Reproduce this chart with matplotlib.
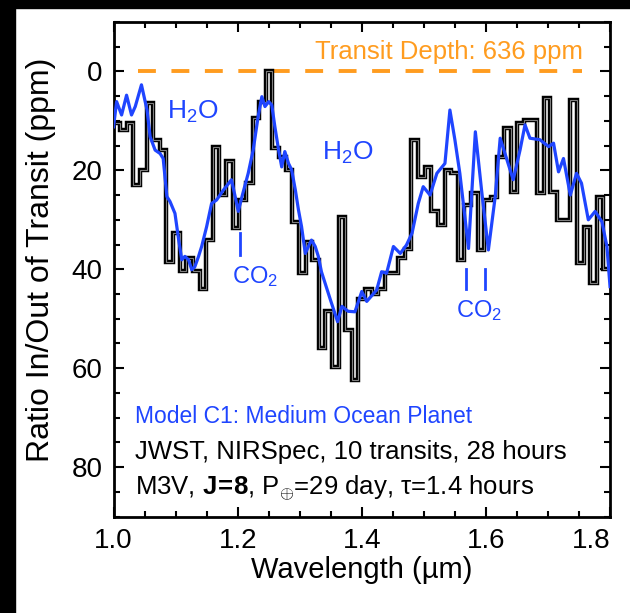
import numpy as np
import matplotlib
matplotlib.use('Agg')
import matplotlib.pyplot as plt
from matplotlib.patches import Rectangle
from matplotlib.ticker import MultipleLocator

plt.rcParams['font.family'] = ['Liberation Sans', 'DejaVu Sans']
plt.rcParams['mathtext.fontset'] = 'custom'
plt.rcParams['mathtext.rm'] = 'Liberation Sans'
plt.rcParams['mathtext.it'] = 'Liberation Sans:italic'
plt.rcParams['mathtext.bf'] = 'Liberation Sans:bold'

# simulated JWST spectrum, binned (ppm below transit depth)
hist_ppm = [10.5, 11.8, 10.5, 23, 20, 6.4, 13.8, 15.9, 38.5, 32.7,
            40.4, 37.7, 40.4, 44, 34, 15.2, 25, 18.2, 31.7, 26,
            22.6, 9.5, 6.1, 0, 15.5, 17.2, 19.9, 30.4, 40.8, 34.4,
            38.1, 56, 48.5, 59.7, 29.4, 52.3, 62.4, 46, 44, 45,
            44, 40.8, 40.8, 37.8, 36, 13.8, 21.3, 19.3, 28.3, 31,
            19.9, 20.6, 38.1, 27, 24.6, 36.1, 26, 25.3, 17.2, 11.5,
            24.3, 10.5, 9.8, 9.8, 24.6, 5.4, 24.3, 30, 30, 5.8,
            38.8, 31.4, 42.8, 25.3, 40]

# model C1 curve
model_wl = [1.000, 1.005, 1.013, 1.021, 1.029, 1.035, 1.045, 1.054, 1.059, 1.067,
            1.075, 1.080, 1.086, 1.091, 1.099, 1.105, 1.110, 1.115, 1.121, 1.126,
            1.131, 1.137, 1.142, 1.150, 1.158, 1.166, 1.177, 1.190, 1.196, 1.201,
            1.207, 1.217, 1.225, 1.233, 1.239, 1.244, 1.250, 1.255, 1.260, 1.266,
            1.271, 1.276, 1.282, 1.287, 1.293, 1.298, 1.303, 1.309, 1.314, 1.319,
            1.325, 1.330, 1.335, 1.349, 1.361, 1.368, 1.378, 1.389, 1.400, 1.408,
            1.424, 1.432, 1.440, 1.451, 1.462, 1.472, 1.481, 1.491, 1.499, 1.510,
            1.521, 1.534, 1.542, 1.550, 1.558, 1.572, 1.583, 1.593, 1.604, 1.615,
            1.623, 1.634, 1.644, 1.655, 1.663, 1.671, 1.687, 1.701, 1.709, 1.717,
            1.725, 1.736, 1.746, 1.754, 1.765, 1.776, 1.787, 1.795, 1.800]
model_ppm = [11.2, 6.1, 8.8, 4.8, 8.8, 7.1, 2.7, 7.8, 13.2, 15.9,
             16.6, 17.6, 25.3, 26.3, 28.7, 34.1, 38.1, 37.4, 38.1, 40.1,
             39.5, 37.4, 35.4, 31.4, 26.7, 26.0, 24.0, 21.9, 25.3, 28.3,
             25.3, 20.6, 15.9, 9.1, 5.1, 7.1, 6.1, 6.8, 11.2, 15.9,
             19.3, 16.2, 18.6, 19.9, 24.0, 28.0, 31.4, 36.8, 35.4, 34.1,
             35.4, 37.4, 40.5, 46.0, 50.6, 47.5, 48.5, 48.6, 44.5, 46.5,
             44.2, 40.5, 40.8, 35.4, 36.8, 35.1, 32.7, 26.7, 23.3, 25.0,
             20.6, 18.6, 7.8, 13.8, 20.6, 35.8, 12.2, 24.0, 36.1, 25.3,
             13.5, 17.9, 21.9, 15.9, 10.8, 13.5, 13.8, 15.2, 14.5, 20.3,
             17.6, 25.0, 20.6, 22.6, 30.0, 28.3, 30.4, 35.4, 43.5]

transit_depth = 636
co2_marks = [1.203, 1.568, 1.599]

blue = '#1f45ff'
orange = '#ff9c1f'

fig = plt.figure(figsize=(6.3, 6.13), dpi=100)
# black frame strips on top and left of the original picture
fig.patches.append(Rectangle((0, 0), 15 / 630, 1, transform=fig.transFigure,
                             color='k', zorder=-1))
fig.patches.append(Rectangle((0, 1 - 8 / 613), 1, 8 / 613, transform=fig.transFigure,
                             color='k', zorder=-1))

ax = fig.add_axes([0.1802, 0.1574, 0.7881, 0.8067])

edges = np.linspace(1.0, 1.8, len(hist_ppm) + 1)
ax.stairs(hist_ppm, edges, baseline=None, color='k', lw=3.2, zorder=2)
ax.stairs(hist_ppm, edges, baseline=None, color='#7f7f7f', lw=0.8, zorder=2)
ax.plot(model_wl, model_ppm, color=blue, lw=2.3, zorder=3)

ax.plot([1.04, 1.755], [0, 0], color=orange, lw=2.8, ls=(0, (4.6, 4.0)), zorder=1)
ax.text(1.757, -3.9, 'Transit Depth: %d ppm' % transit_depth, color=orange,
        fontsize=18.5, ha='right', va='center')

# molecule labels
ax.text(1.128, 8.2, r'H$_2$O', color=blue, fontsize=19, ha='center', va='center')
ax.text(1.378, 16.5, r'H$_2$O', color=blue, fontsize=19, ha='center', va='center')
ax.plot([co2_marks[0]] * 2, [32.7, 37.1], color=blue, lw=2)
ax.text(1.228, 41.5, r'CO$_2$', color=blue, fontsize=17, ha='center', va='center')
for w in co2_marks[1:]:
    ax.plot([w, w], [40, 44], color=blue, lw=2)
ax.text(1.589, 48.4, r'CO$_2$', color=blue, fontsize=17, ha='center', va='center')

ax.text(1.034, 69.7, 'Model C1: Medium Ocean Planet', color=blue, fontsize=16.5, va='center')
ax.text(1.034, 77.0, 'JWST, NIRSpec, 10 transits, 28 hours', color='k', fontsize=18.5,
        va='center')
ax.text(1.034, 84.3, r'M3V, $\mathbf{J\!=\!8}$, P$_{\oplus}$=29 day, τ=1.4 hours', color='k',
        fontsize=18.5, va='center')

ax.set_xlim(1.0, 1.8)
ax.set_ylim(90, -10)
ax.set_xticks([1.0, 1.2, 1.4, 1.6, 1.8])
ax.set_yticks([0, 20, 40, 60, 80])
ax.xaxis.set_minor_locator(MultipleLocator(0.05))
ax.yaxis.set_minor_locator(MultipleLocator(5))
ax.tick_params(which='both', direction='in', top=True, right=True, width=1.5,
               labelsize=20)
ax.tick_params(which='major', length=7, pad=8)
ax.tick_params(which='minor', length=4)
for s in ax.spines.values():
    s.set_linewidth(2)
# last x label sits left of its tick in the original
ax.get_xticklabels()[-1].set_horizontalalignment('right')

ax.set_xlabel('Wavelength (µm)', fontsize=21, labelpad=2)
ax.set_ylabel('Ratio In/Out of Transit (ppm)', fontsize=23)
ax.yaxis.set_label_coords(-0.115, 0.52)

fig.savefig('out.png', dpi=100)
